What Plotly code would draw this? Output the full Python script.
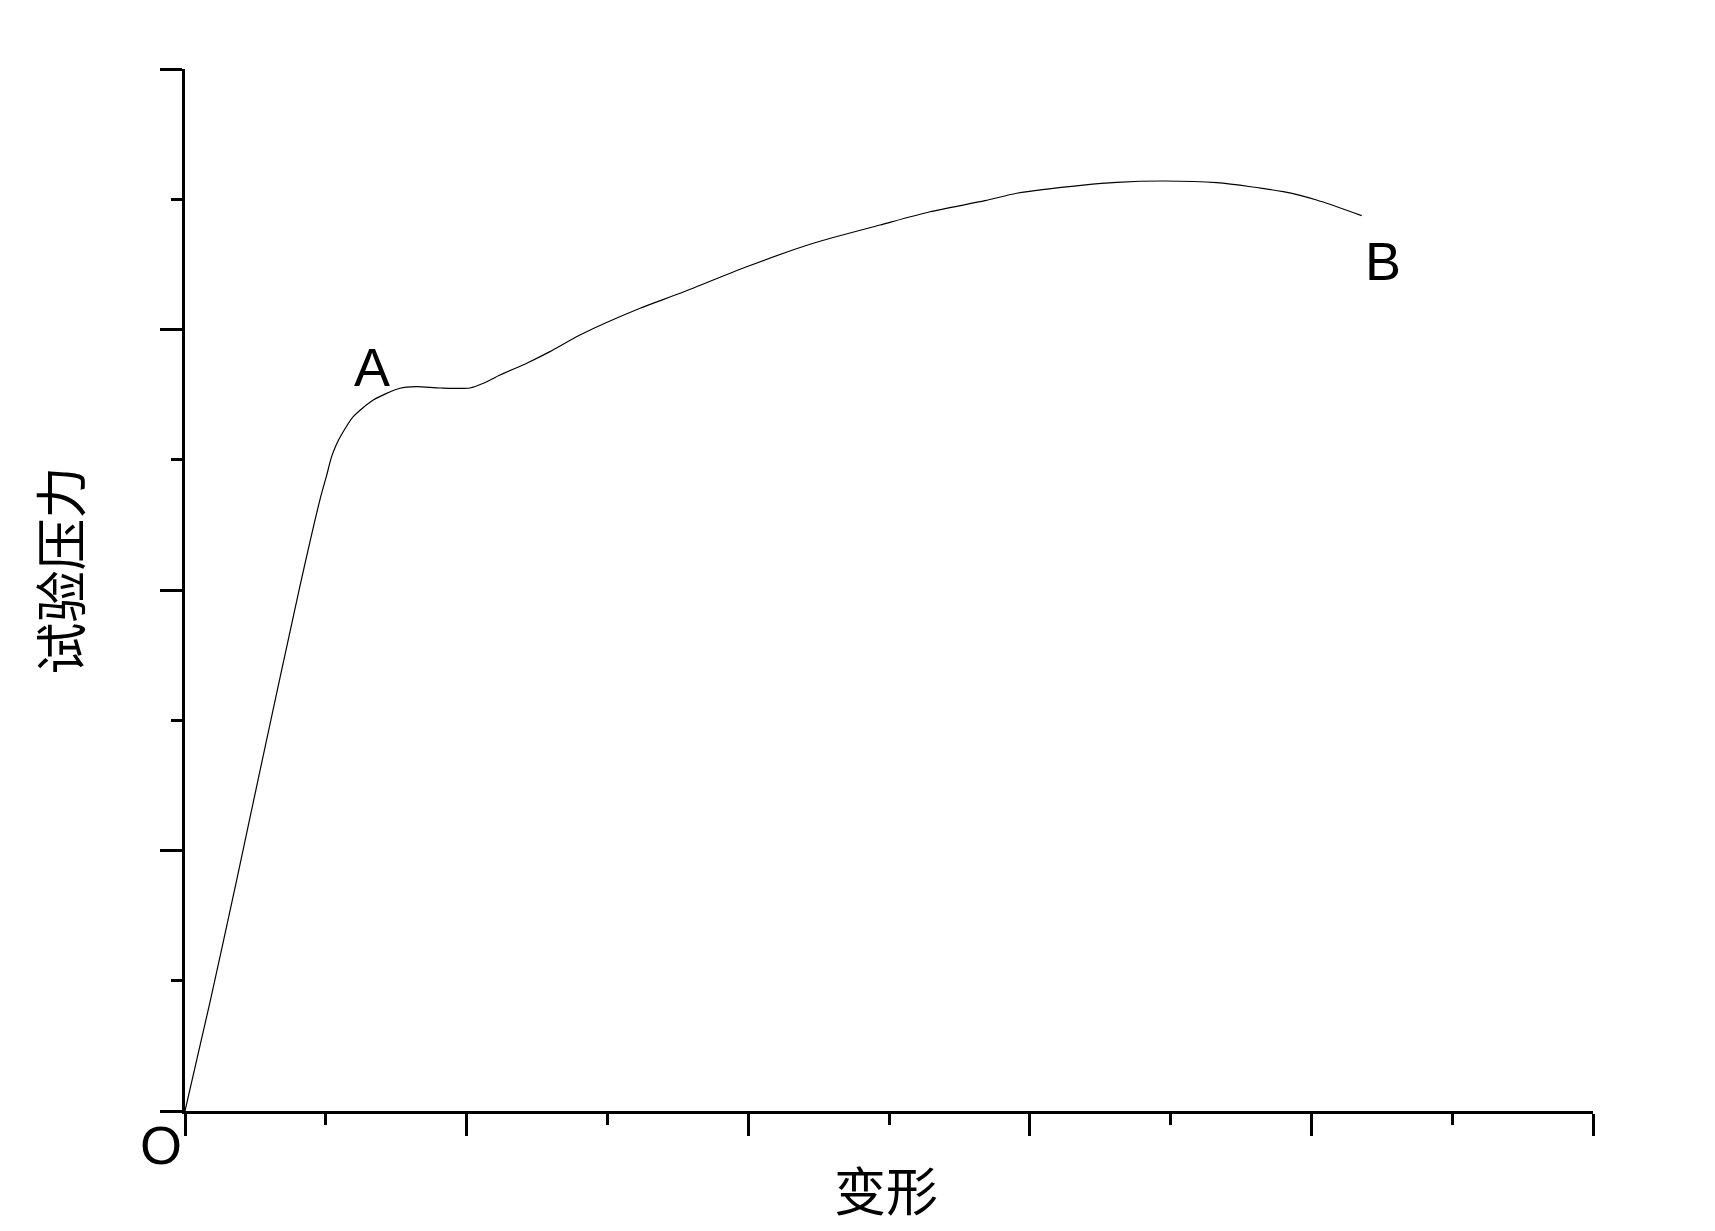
import plotly.graph_objects as go

# Data (deformation vs. test pressure, arbitrary units)
deformation = [0.0, 0.176, 0.367, 0.521, 0.805, 0.960, 1.006, 1.040, 1.072, 1.110,
               1.195, 1.337, 1.527, 1.646, 1.811, 2.024, 2.119, 2.237, 2.427, 2.592,
               2.805, 3.232, 3.516, 3.989, 4.462, 4.936, 5.291, 5.682, 5.907, 6.380,
               6.617, 6.948, 7.327, 7.800, 8.037, 8.357]
pressure = [0.0, 0.829, 1.773, 2.554, 3.975, 4.700, 4.880, 5.020, 5.110, 5.190,
            5.331, 5.459, 5.549, 5.561, 5.551, 5.551, 5.587, 5.651, 5.741, 5.830,
            5.958, 6.163, 6.278, 6.482, 6.662, 6.802, 6.904, 6.989, 7.046, 7.109,
            7.130, 7.140, 7.127, 7.058, 6.994, 6.874]

# Point labels: A and B in data units, O (origin label) in paper units
point_labels = ["A", "B"]
label_x = [1.328, 8.509]
label_y = [5.712, 6.526]
origin_label = "O"

x_title = "变形"
y_title = "试验压力"

fig = go.Figure()
fig.add_trace(go.Scatter(x=deformation, y=pressure, mode="lines",
                         line=dict(color="black", width=1.2, shape="spline", smoothing=0.7),
                         showlegend=False, hoverinfo="skip"))

label_font = dict(family="Arial, Liberation Sans, sans-serif", size=54, color="black")
for t, lx, ly in zip(point_labels, label_x, label_y):
    fig.add_annotation(x=lx, y=ly, xref="x", yref="y", text=t, showarrow=False,
                       font=label_font, xanchor="center", yanchor="middle")
fig.add_annotation(x=-0.017, y=-0.033, xref="paper", yref="paper", text=origin_label,
                   showarrow=False, font=label_font, xanchor="center", yanchor="middle")

fig.add_annotation(x=0.498, y=-0.074, xref="paper", yref="paper", text=x_title,
                   showarrow=False, xanchor="center", yanchor="middle",
                   font=dict(family="Noto Sans CJK SC", size=52, color="black"))
fig.add_annotation(x=-0.090, y=0.519, xref="paper", yref="paper", text=y_title,
                   showarrow=False, xanchor="center", yanchor="middle", textangle=-90,
                   font=dict(family="Noto Sans CJK SC", size=52, color="black"))

axis_common = dict(showgrid=False, zeroline=False, showline=True, linecolor="black",
                   linewidth=3, ticks="outside", ticklen=22, tickwidth=3, tickcolor="black",
                   showticklabels=False, dtick=2, tick0=0,
                   minor=dict(ticks="outside", ticklen=11, tickwidth=3, tickcolor="black",
                              dtick=1, tick0=0, showgrid=False))

fig.update_xaxes(range=[0, 10], **axis_common)
fig.update_yaxes(range=[0, 8], **axis_common)

fig.update_layout(width=1699, height=1222, plot_bgcolor="white", paper_bgcolor="white",
                  margin=dict(l=177, r=114, t=61, b=119, autoexpand=False))

fig.write_html("out.html")
